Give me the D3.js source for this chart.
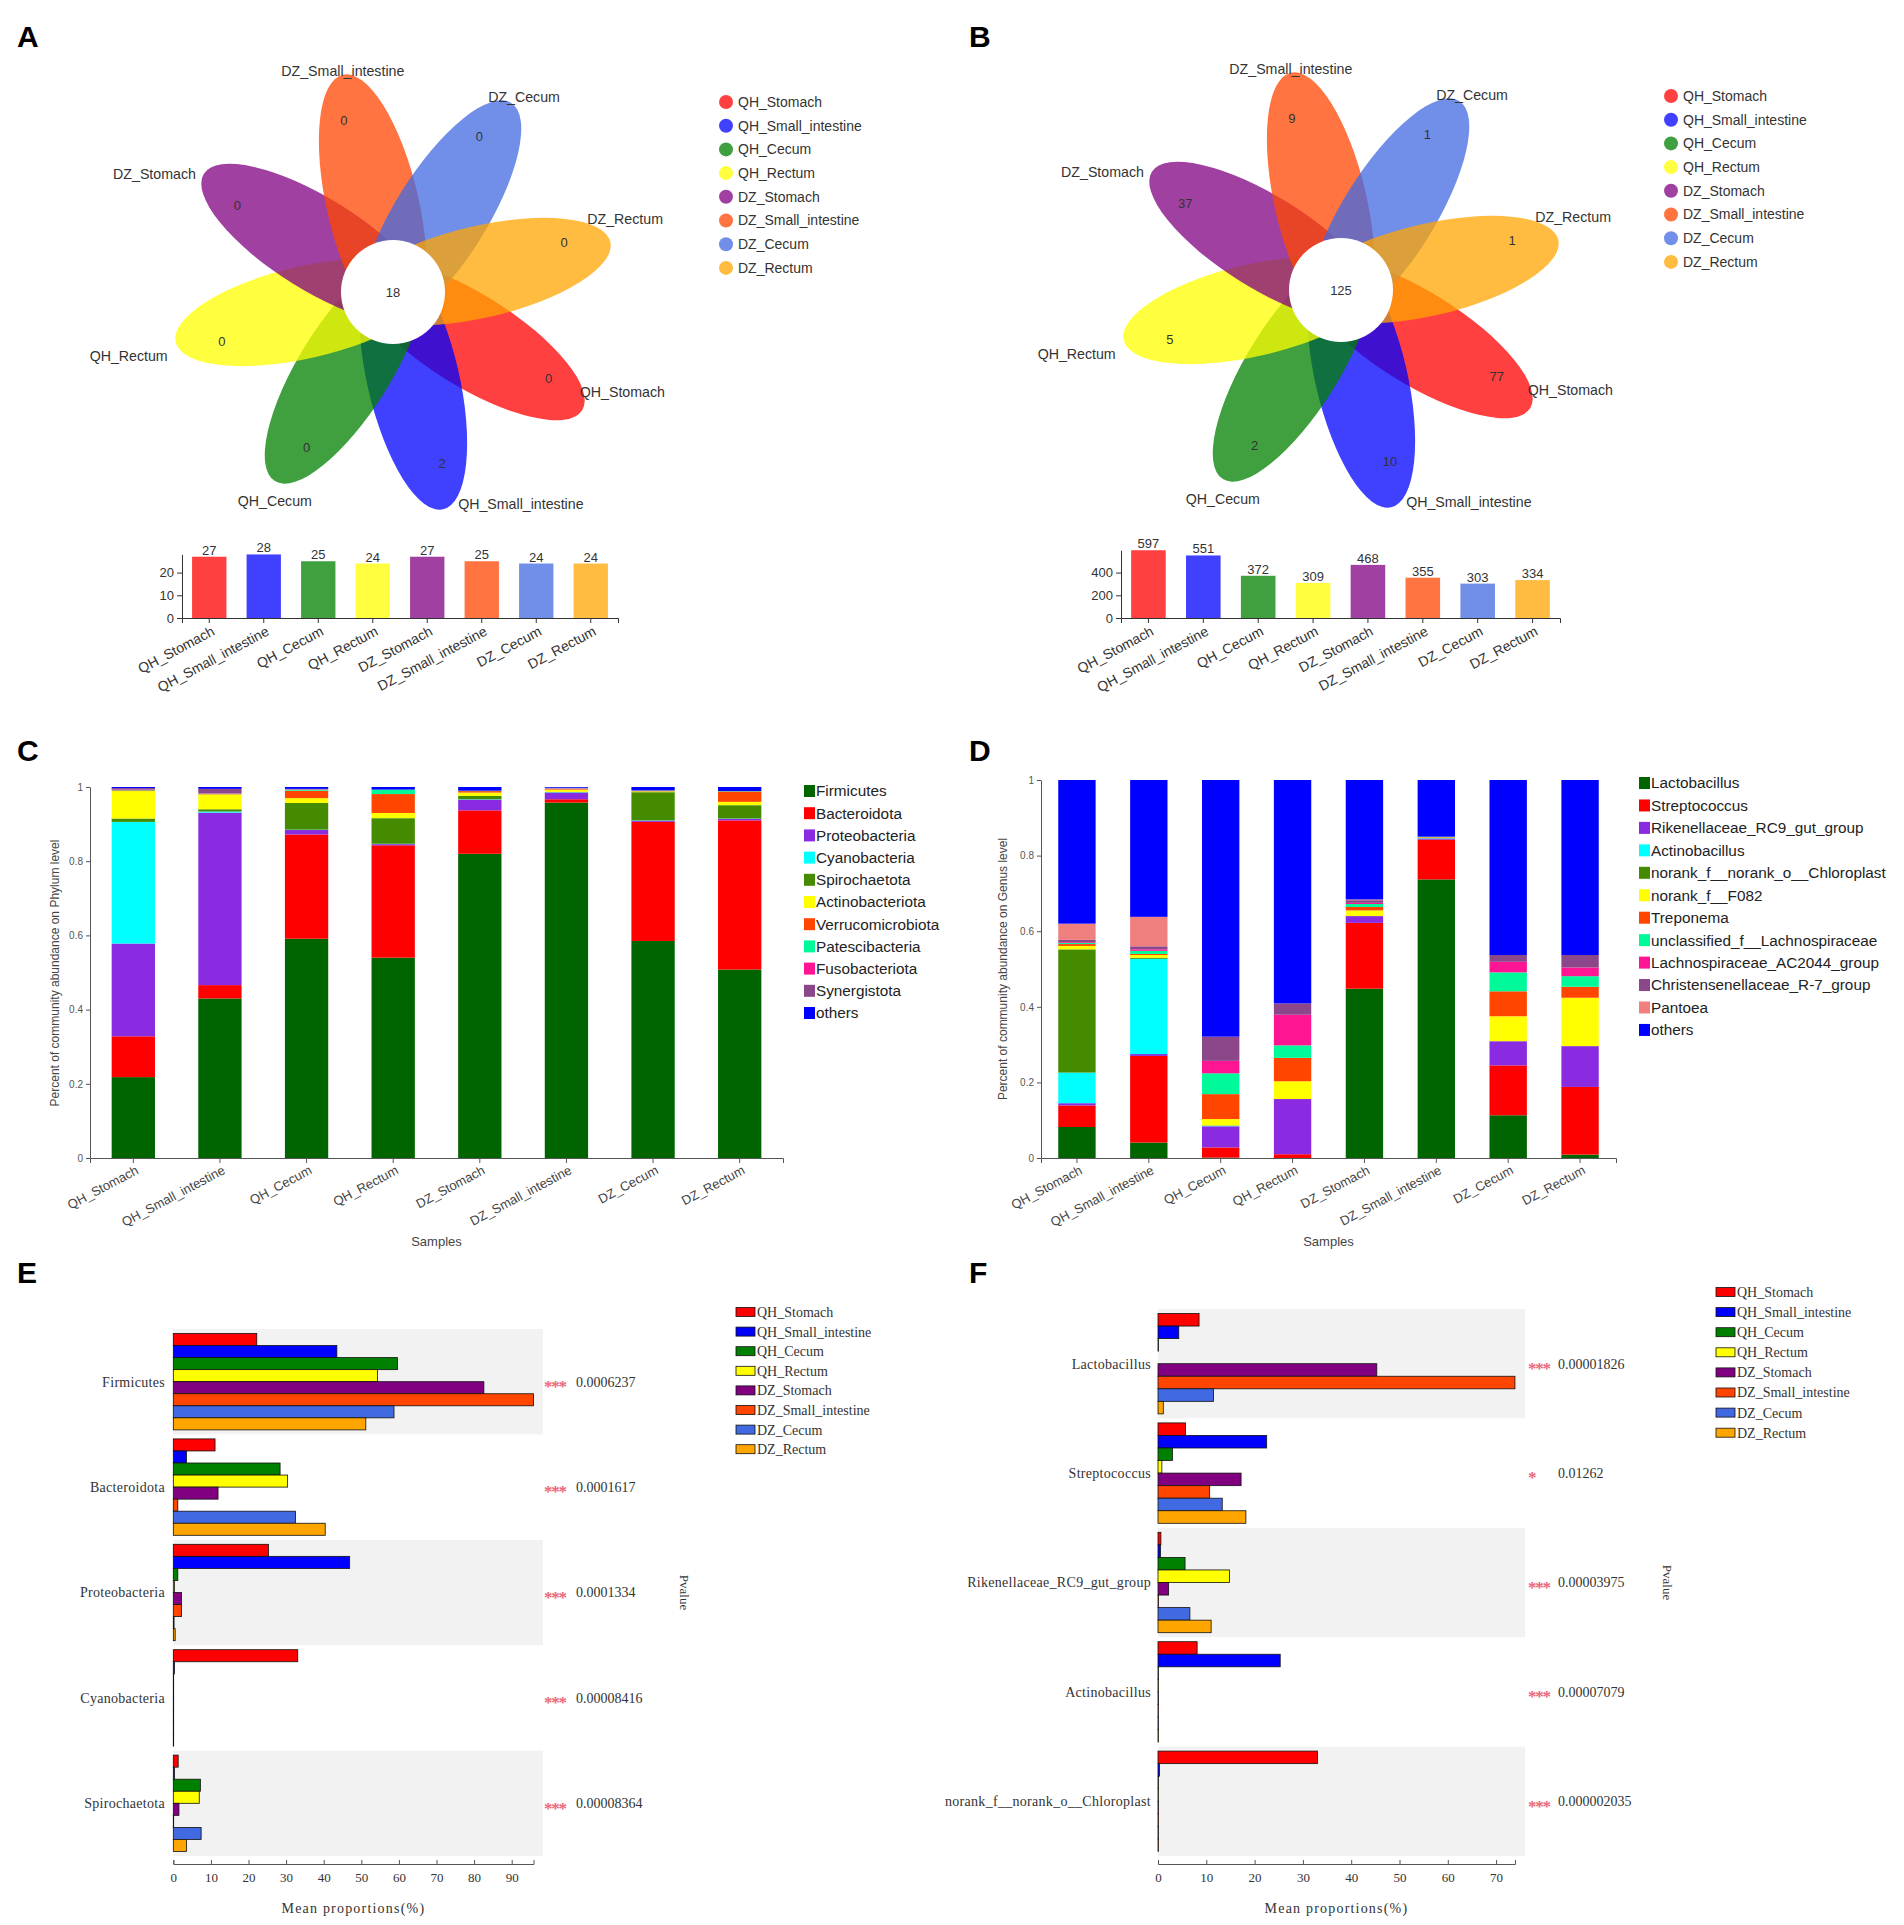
<!DOCTYPE html>
<html>
<head>
<meta charset="utf-8">
<script src="https://cdnjs.cloudflare.com/ajax/libs/d3/7.8.5/d3.min.js"></script>
<style>
  body { margin: 0; background: #fff; }
  svg { display: block; }
</style>
</head>
<body>
<div id="vis-holder"></div>
<script>
// ---- Data -------------------------------------------------------------
const groups = ["QH_Stomach", "QH_Small_intestine", "QH_Cecum", "QH_Rectum",
                "DZ_Stomach", "DZ_Small_intestine", "DZ_Cecum", "DZ_Rectum"];
const groupColors = ["#ff0000", "#0000ff", "#008000", "#ffff00",
                     "#800080", "#ff4500", "#4169e1", "#ffa500"];

// A: phylum flower
const phylumUnique = [0, 2, 0, 0, 0, 0, 0, 0];
const phylumCore = 18;
const phylumTotal = [27, 28, 25, 24, 27, 25, 24, 24];
const phylumTotalTicks = [0, 10, 20];

// B: genus flower
const genusUnique = [77, 10, 2, 5, 37, 9, 1, 1];
const genusCore = 125;
const genusTotal = [597, 551, 372, 309, 468, 355, 303, 334];
const genusTotalTicks = [0, 200, 400];

// C: phylum composition (rows = phyla, cols = samples in group order)
const phyla = ["Firmicutes", "Bacteroidota", "Proteobacteria", "Cyanobacteria",
               "Spirochaetota", "Actinobacteriota", "Verrucomicrobiota",
               "Patescibacteria", "Fusobacteriota", "Synergistota", "others"];
const phylaColors = ["#006400", "#ff0000", "#8a2be2", "#00ffff", "#458b00", "#ffff00",
                     "#ff4500", "#00fa9a", "#ff1493", "#8b4789", "#0000ff"];
const phylaAbund = [
  [0.218, 0.430, 0.591, 0.540, 0.820, 0.958, 0.585, 0.508],
  [0.110, 0.036, 0.281, 0.303, 0.117, 0.009, 0.321, 0.402],
  [0.250, 0.465, 0.012, 0.003, 0.029, 0.018, 0.003, 0.004],
  [0.328, 0.003, 0.001, 0.001, 0.001, 0.001, 0.001, 0.001],
  [0.009, 0.006, 0.072, 0.069, 0.009, 0.001, 0.076, 0.036],
  [0.074, 0.040, 0.013, 0.014, 0.009, 0.006, 0.002, 0.009],
  [0.002, 0.001, 0.020, 0.051, 0.004, 0.002, 0.001, 0.028],
  [0.001, 0.001, 0.003, 0.012, 0.001, 0.001, 0.001, 0.001],
  [0.001, 0.001, 0.001, 0.000, 0.000, 0.001, 0.000, 0.000],
  [0.004, 0.012, 0.001, 0.000, 0.000, 0.001, 0.001, 0.000],
  [0.003, 0.005, 0.005, 0.007, 0.010, 0.002, 0.009, 0.011]
];

// D: genus composition
const genera = ["Lactobacillus", "Streptococcus", "Rikenellaceae_RC9_gut_group", "Actinobacillus",
                "norank_f__norank_o__Chloroplast", "norank_f__F082", "Treponema",
                "unclassified_f__Lachnospiraceae", "Lachnospiraceae_AC2044_group",
                "Christensenellaceae_R-7_group", "Pantoea", "others"];
const generaColors = ["#006400", "#ff0000", "#8a2be2", "#00ffff", "#458b00", "#ffff00",
                      "#ff4500", "#00fa9a", "#ff1493", "#8b4789", "#f08080", "#0000ff"];
const generaAbund = [
  [0.082, 0.041, 0.001, 0.000, 0.448, 0.737, 0.113, 0.009],
  [0.057, 0.229, 0.027, 0.010, 0.174, 0.105, 0.132, 0.179],
  [0.006, 0.005, 0.056, 0.146, 0.018, 0.003, 0.064, 0.108],
  [0.081, 0.252, 0.001, 0.000, 0.000, 0.001, 0.000, 0.000],
  [0.326, 0.003, 0.001, 0.000, 0.000, 0.001, 0.000, 0.000],
  [0.009, 0.007, 0.017, 0.047, 0.015, 0.001, 0.066, 0.128],
  [0.005, 0.003, 0.066, 0.062, 0.009, 0.001, 0.066, 0.029],
  [0.003, 0.008, 0.055, 0.033, 0.008, 0.001, 0.050, 0.028],
  [0.002, 0.004, 0.033, 0.081, 0.003, 0.000, 0.028, 0.023],
  [0.006, 0.008, 0.064, 0.030, 0.007, 0.000, 0.018, 0.033],
  [0.043, 0.078, 0.000, 0.000, 0.002, 0.000, 0.000, 0.000],
  [0.380, 0.362, 0.679, 0.591, 0.316, 0.150, 0.463, 0.463]
];

// E: differential phyla (mean proportions %, cols = groups)
const diffPhyla = ["Firmicutes", "Bacteroidota", "Proteobacteria", "Cyanobacteria", "Spirochaetota"];
const diffPhylaMeans = [
  [22.2, 43.5, 59.6, 54.3, 82.6, 95.8, 58.7, 51.2],
  [11.1, 3.5, 28.4, 30.4, 11.9, 1.2, 32.5, 40.4],
  [25.3, 46.9, 1.2, 0.3, 2.2, 2.2, 0.2, 0.5],
  [33.1, 0.3, 0.1, 0.1, 0.1, 0.1, 0.1, 0.1],
  [1.3, 0.3, 7.2, 6.9, 1.5, 0.1, 7.4, 3.5]
];
const diffPhylaP = ["0.0006237", "0.0001617", "0.0001334", "0.00008416", "0.00008364"];
const diffPhylaStars = ["***", "***", "***", "***", "***"];
const diffPhylaTicks = [0, 10, 20, 30, 40, 50, 60, 70, 80, 90];

// F: differential genera
const diffGenera = ["Lactobacillus", "Streptococcus", "Rikenellaceae_RC9_gut_group",
                    "Actinobacillus", "norank_f__norank_o__Chloroplast"];
const diffGeneraMeans = [
  [8.5, 4.3, 0.1, 0.0, 45.3, 73.9, 11.5, 1.1],
  [5.7, 22.5, 3.0, 0.8, 17.2, 10.7, 13.3, 18.2],
  [0.6, 0.5, 5.6, 14.8, 2.2, 0.1, 6.6, 11.0],
  [8.1, 25.3, 0.1, 0.1, 0.1, 0.1, 0.1, 0.1],
  [33.0, 0.3, 0.1, 0.1, 0.1, 0.1, 0.1, 0.1]
];
const diffGeneraP = ["0.00001826", "0.01262", "0.00003975", "0.00007079", "0.000002035"];
const diffGeneraStars = ["***", "*", "***", "***", "***"];
const diffGeneraTicks = [0, 10, 20, 30, 40, 50, 60, 70];

// ---- Setup ------------------------------------------------------------
const width = 1904, height = 1925;
const sans = "'Liberation Sans', Arial, sans-serif";
const serif = "'Liberation Serif', 'Times New Roman', serif";

const svg = d3.select("#vis-holder")
              .append("svg")
              .attr("width", width)
              .attr("height", height);

svg.append("rect").attr("width", width).attr("height", height).attr("fill", "#fff");

// panel letters
[["A", 17, 47], ["B", 969, 47], ["C", 17, 761], ["D", 969, 761], ["E", 17, 1283], ["F", 969, 1283]]
  .forEach(([t, x, y]) => {
    svg.append("text").attr("x", x).attr("y", y).text(t)
       .attr("font-family", sans).attr("font-weight", "bold").attr("font-size", 30).attr("fill", "#000");
  });

// ---- Flower (Venn-like) -----------------------------------------------
function drawFlower(cx, cy, unique, core, legendX, legendY) {
  const g = svg.append("g");
  const tip = 223, a = 133, b = 46, off = tip - a, rCore = 52;

  // petals
  groups.forEach((name, k) => {
    const ang = 32 + 45 * k;
    const rad = ang * Math.PI / 180;
    g.append("ellipse")
      .attr("rx", a).attr("ry", b)
      .attr("transform", `translate(${cx + off * Math.cos(rad)},${cy + off * Math.sin(rad)}) rotate(${ang})`)
      .attr("fill", groupColors[k])
      .attr("fill-opacity", 0.75);
  });

  // core circle
  g.append("circle").attr("cx", cx).attr("cy", cy).attr("r", rCore).attr("fill", "#fff");
  g.append("text").attr("x", cx).attr("y", cy).attr("dy", "0.35em")
   .attr("text-anchor", "middle").attr("font-family", sans).attr("font-size", 13).attr("fill", "#333")
   .text(core);

  // unique counts and sample names
  groups.forEach((name, k) => {
    const ang = 32 + 45 * k;
    const rad = ang * Math.PI / 180;
    const radN = (ang - 3) * Math.PI / 180;
    g.append("text")
      .attr("x", cx + 178 * Math.cos(radN)).attr("y", cy + 178 * Math.sin(radN)).attr("dy", "0.35em")
      .attr("text-anchor", "middle").attr("font-family", sans).attr("font-size", 13).attr("fill", "#333")
      .text(unique[k]);

    const c = Math.cos(rad), s = Math.sin(rad);
    const tx = cx + tip * c, ty = cy + tip * s;
    let anchor, lx, ly;
    if (c > 0.2) {
      anchor = "start";
      lx = tx - 23 + 39 * Math.max(0, s);
      ly = ty - 5 - 38 * Math.max(0, c - 0.5);
    } else if (c < -0.6) {
      anchor = "end"; lx = tx - 8; ly = ty + 10 + 18 * s;
    } else {
      anchor = "middle"; lx = tx; ly = s > 0 ? ty + 20 : ty - 4;
    }
    g.append("text")
      .attr("x", lx).attr("y", ly).attr("dy", "0.35em")
      .attr("text-anchor", anchor).attr("font-family", sans).attr("font-size", 14.2).attr("fill", "#333")
      .text(name);
  });

  // legend
  const lg = svg.append("g").attr("transform", `translate(${legendX},${legendY})`);
  groups.forEach((name, k) => {
    lg.append("circle").attr("cx", 0).attr("cy", k * 23.7).attr("r", 7)
      .attr("fill", groupColors[k]).attr("fill-opacity", 0.75);
    lg.append("text").attr("x", 12).attr("y", k * 23.7).attr("dy", "0.35em")
      .attr("font-family", sans).attr("font-size", 14).attr("fill", "#333").text(name);
  });
}

// ---- Sample totals bar chart -------------------------------------------
function drawTotals(x0, x1, y0, unitPx, totals, ticks) {
  const maxV = d3.max(totals);
  const x = d3.scaleBand().domain(groups).range([x0, x1]).paddingInner(0.37).paddingOuter(0.185);
  const y = d3.scaleLinear().domain([0, maxV]).range([y0, y0 - maxV * unitPx]);

  const g = svg.append("g");
  g.selectAll("rect").data(totals).join("rect")
    .attr("x", (d, i) => x(groups[i]))
    .attr("y", d => y(d))
    .attr("width", x.bandwidth())
    .attr("height", d => y0 - y(d))
    .attr("fill", (d, i) => groupColors[i])
    .attr("fill-opacity", 0.75);

  g.selectAll(".val").data(totals).join("text")
    .attr("class", "val")
    .attr("x", (d, i) => x(groups[i]) + x.bandwidth() / 2)
    .attr("y", d => y(d) - 2)
    .attr("text-anchor", "middle").attr("font-family", sans).attr("font-size", 13).attr("fill", "#333")
    .text(d => d);

  const ya = g.append("g").attr("transform", `translate(${x0},0)`)
    .call(d3.axisLeft(y).tickValues(ticks).tickSize(5).tickSizeOuter(0));
  ya.selectAll("text").attr("font-family", sans).attr("font-size", 13).attr("fill", "#333");
  ya.selectAll("path, line").attr("stroke", "#333");

  const xa = g.append("g").attr("transform", `translate(0,${y0})`)
    .call(d3.axisBottom(x).tickSize(5).tickSizeOuter(5));
  xa.selectAll("path, line").attr("stroke", "#333");
  xa.selectAll("text")
    .attr("x", 0).attr("y", 0).attr("dy", "0.35em")
    .attr("transform", "translate(4,12) rotate(-28)")
    .attr("text-anchor", "end")
    .attr("font-family", sans).attr("font-size", 14).attr("fill", "#333");
}

// ---- Stacked composition chart ------------------------------------------
function drawStack(cfg) {
  const rows = groups.map((s, i) => {
    const r = { sample: s };
    cfg.names.forEach((n, j) => { r[n] = cfg.abund[j][i]; });
    return r;
  });
  const series = d3.stack().keys(cfg.names)(rows);

  const x = d3.scaleBand().domain(groups).range([cfg.x0, cfg.x1])
              .paddingInner(cfg.pad).paddingOuter(cfg.pad / 2);
  const y = d3.scaleLinear().domain([0, 1]).range([cfg.y0, cfg.y1]);

  const g = svg.append("g");
  g.selectAll("g.layer").data(series).join("g")
    .attr("class", "layer")
    .attr("fill", (d, i) => cfg.colors[i])
    .selectAll("rect").data(d => d).join("rect")
      .attr("x", d => x(d.data.sample))
      .attr("y", d => y(d[1]))
      .attr("width", x.bandwidth())
      .attr("height", d => Math.max(0, y(d[0]) - y(d[1])));

  const ya = g.append("g").attr("transform", `translate(${cfg.x0},0)`)
    .call(d3.axisLeft(y).tickValues([0, 0.2, 0.4, 0.6, 0.8, 1])
            .tickFormat(d => (d === 0 || d === 1) ? String(d) : d3.format(".1f")(d))
            .tickSize(4).tickSizeOuter(0));
  ya.selectAll("path, line").attr("stroke", "#555");
  ya.selectAll("text").attr("font-family", sans).attr("font-size", 10).attr("fill", "#555");

  const xa = g.append("g").attr("transform", `translate(0,${cfg.y0})`)
    .call(d3.axisBottom(x).tickSize(5).tickSizeOuter(5));
  xa.selectAll("path, line").attr("stroke", "#555");
  xa.selectAll("text")
    .attr("x", 0).attr("y", 0).attr("dy", "0.35em")
    .attr("transform", "translate(4,11) rotate(-28)")
    .attr("text-anchor", "end")
    .attr("font-family", sans).attr("font-size", 13).attr("fill", "#444");

  g.append("text")
    .attr("transform", `translate(${cfg.yTitleX},${cfg.yTitleY}) rotate(-90)`)
    .attr("text-anchor", "middle").attr("dy", "0.35em")
    .attr("font-family", sans).attr("font-size", 12).attr("fill", "#444")
    .text(cfg.yTitle);

  g.append("text")
    .attr("x", (cfg.x0 + cfg.x1) / 2).attr("y", cfg.y0 + 88)
    .attr("text-anchor", "middle")
    .attr("font-family", sans).attr("font-size", 13).attr("fill", "#444")
    .text("Samples");

  const lg = svg.append("g").attr("transform", `translate(${cfg.legendX},${cfg.legendY})`);
  cfg.names.forEach((n, k) => {
    lg.append("rect").attr("x", 0).attr("y", k * cfg.legendStep - 6).attr("width", 11).attr("height", 12)
      .attr("fill", cfg.colors[k]);
    lg.append("text").attr("x", 12).attr("y", k * cfg.legendStep).attr("dy", "0.35em")
      .attr("font-family", sans).attr("font-size", 15.3).attr("fill", "#222").text(n);
  });
}

// ---- Differential abundance chart ---------------------------------------
function drawDiff(cfg) {
  const x = d3.scaleLinear().domain([0, cfg.max]).range([cfg.x0, cfg.x0 + cfg.max * cfg.unit]);
  const yCat = d3.scaleBand().domain(cfg.cats).range([cfg.top, cfg.top + cfg.bandH * cfg.cats.length]);
  const yGrp = d3.scaleBand().domain(groups).range([4.5, cfg.bandH - 4.5]);

  const g = svg.append("g");

  // alternating shaded bands
  g.selectAll(".band").data(cfg.cats.filter((c, i) => i % 2 === 0)).join("rect")
    .attr("class", "band")
    .attr("x", x(0))
    .attr("y", d => yCat(d))
    .attr("width", x(cfg.bandEnd) - x(0))
    .attr("height", yCat.bandwidth())
    .attr("fill", "#f2f2f2");

  cfg.cats.forEach((cat, ci) => {
    const cg = g.append("g").attr("transform", `translate(0,${yCat(cat)})`);
    cg.selectAll("rect").data(cfg.means[ci]).join("rect")
      .attr("x", x(0))
      .attr("y", (d, i) => yGrp(groups[i]))
      .attr("width", d => x(d) - x(0))
      .attr("height", yGrp.bandwidth())
      .attr("fill", (d, i) => groupColors[i])
      .attr("stroke", "#111").attr("stroke-width", 0.8);

    const mid = yCat(cat) + yCat.bandwidth() / 2;
    g.append("text").attr("x", cfg.labelX).attr("y", mid).attr("dy", "0.35em")
      .attr("text-anchor", "end").attr("font-family", serif).attr("font-size", 14).attr("fill", "#333")
      .attr("letter-spacing", 0.3)
      .text(cat);
    g.append("text").attr("x", cfg.starX).attr("y", mid).attr("dy", "0.6em")
      .attr("font-family", serif).attr("font-size", 17).attr("font-weight", "bold").attr("fill", "#e8687a")
      .attr("letter-spacing", -1.2)
      .text(cfg.stars[ci]);
    g.append("text").attr("x", cfg.pX).attr("y", mid).attr("dy", "0.35em")
      .attr("font-family", serif).attr("font-size", 14).attr("fill", "#333")
      .text(cfg.pvals[ci]);
  });

  const xa = g.append("g").attr("transform", `translate(0,${cfg.axisY})`)
    .call(d3.axisBottom(x).tickValues(cfg.ticks).tickSizeInner(-4).tickSizeOuter(-4).tickPadding(9));
  xa.selectAll("path, line").attr("stroke", "#555");
  xa.selectAll("text").attr("font-family", serif).attr("font-size", 13).attr("fill", "#333");

  g.append("text")
    .attr("x", (x(0) + x(cfg.max)) / 2).attr("y", cfg.axisY + 49)
    .attr("text-anchor", "middle").attr("font-family", serif).attr("font-size", 14).attr("fill", "#333")
    .attr("letter-spacing", 1.2)
    .text("Mean proportions(%)");

  const midAll = cfg.top + cfg.bandH * cfg.cats.length / 2;
  g.append("text")
    .attr("transform", `translate(${cfg.pTitleX},${midAll}) rotate(90)`)
    .attr("text-anchor", "middle").attr("dy", "0.35em")
    .attr("font-family", serif).attr("font-size", 13).attr("fill", "#333")
    .text("Pvalue");

  const lg = svg.append("g").attr("transform", `translate(${cfg.legendX},${cfg.legendY})`);
  groups.forEach((n, k) => {
    lg.append("rect").attr("x", 0).attr("y", k * cfg.legendStep - 4.5).attr("width", 19).attr("height", 9)
      .attr("fill", groupColors[k]).attr("stroke", "#111").attr("stroke-width", 0.8);
    lg.append("text").attr("x", 21).attr("y", k * cfg.legendStep).attr("dy", "0.35em")
      .attr("font-family", serif).attr("font-size", 14).attr("fill", "#333").text(n);
  });
}

// ---- Draw --------------------------------------------------------------
drawFlower(393, 292, phylumUnique, phylumCore, 726, 102);
drawTotals(182, 618, 618, 2.27, phylumTotal, phylumTotalTicks);

drawFlower(1341, 290, genusUnique, genusCore, 1671, 96);
drawTotals(1121, 1560, 618, 0.1135, genusTotal, genusTotalTicks);

drawStack({
  names: phyla, colors: phylaColors, abund: phylaAbund,
  x0: 90, x1: 783, y0: 1158, y1: 787, pad: 0.5,
  yTitle: "Percent of community abundance on Phylum level", yTitleX: 55, yTitleY: 973,
  legendX: 804, legendY: 791, legendStep: 22.2
});

drawStack({
  names: genera, colors: generaColors, abund: generaAbund,
  x0: 1041, x1: 1616, y0: 1158, y1: 780, pad: 0.48,
  yTitle: "Percent of community abundance on Genus level", yTitleX: 1003, yTitleY: 969,
  legendX: 1639, legendY: 783, legendStep: 22.45
});

drawDiff({
  cats: diffPhyla, means: diffPhylaMeans, pvals: diffPhylaP, stars: diffPhylaStars, ticks: diffPhylaTicks,
  x0: 173.3, unit: 3.76, max: 95.8, bandEnd: 98.3,
  top: 1329, bandH: 105.4, axisY: 1864,
  labelX: 165, starX: 544, pX: 576, pTitleX: 685,
  legendX: 736, legendY: 1312, legendStep: 19.6
});

drawDiff({
  cats: diffGenera, means: diffGeneraMeans, pvals: diffGeneraP, stars: diffGeneraStars, ticks: diffGeneraTicks,
  x0: 1158, unit: 4.83, max: 73.9, bandEnd: 76,
  top: 1309, bandH: 109.4, axisY: 1864,
  labelX: 1151, starX: 1528, pX: 1558, pTitleX: 1668,
  legendX: 1716, legendY: 1292, legendStep: 20.1
});
</script>
</body>
</html>
